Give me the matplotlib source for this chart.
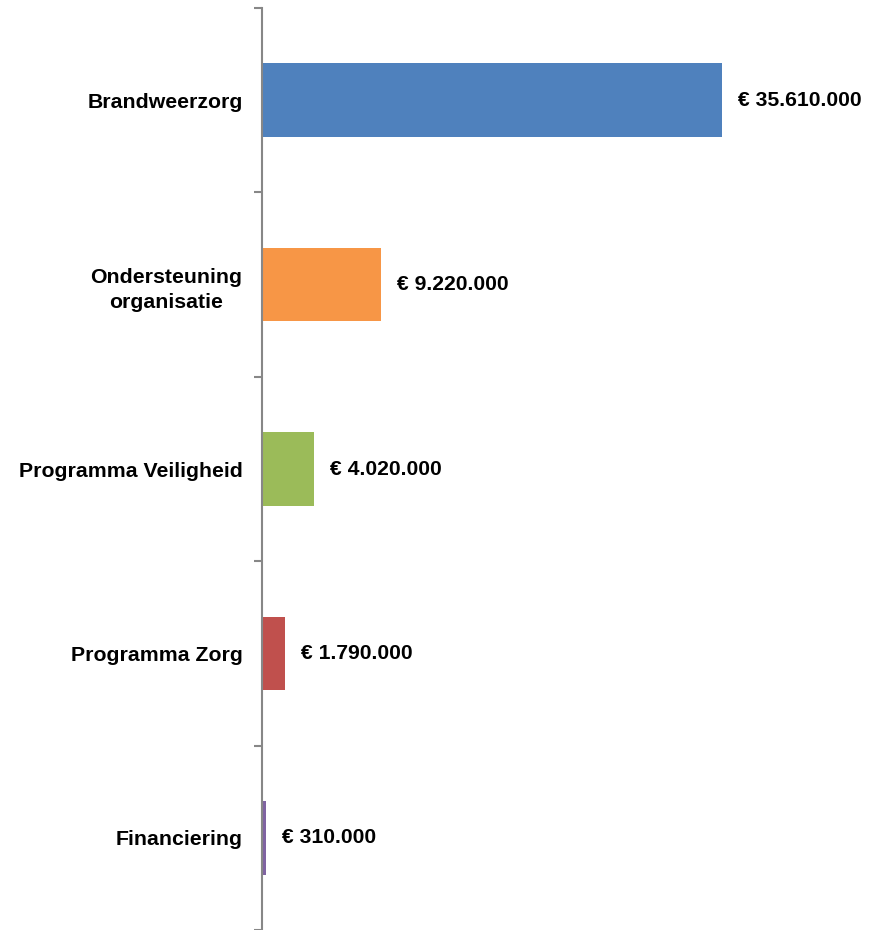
import matplotlib.pyplot as plt
import numpy as np

plt.rcParams['font.family'] = ['Liberation Sans', 'DejaVu Sans']

categories = ['Brandweerzorg', 'Ondersteuning\norganisatie', 'Programma Veiligheid',
              'Programma Zorg', 'Financiering']
values = [35610000, 9220000, 4020000, 1790000, 310000]
labels = ['€ 35.610.000', '€ 9.220.000', '€ 4.020.000', '€ 1.790.000', '€ 310.000']
colors = ['#4F81BD', '#F79646', '#9BBB59', '#C0504D', '#8064A2']

fig = plt.figure(figsize=(8.82, 9.30), dpi=100)
ax = fig.add_axes([262 / 882, 0, 620 / 882, 922 / 930])

y = np.arange(len(categories))
ax.barh(y, values, height=0.4, color=colors)
ax.set_xlim(0, 48e6)
ax.set_ylim(len(categories) - 0.5, -0.5)

for yi, v, lab in zip(y, values, labels):
    ax.text(v + 1.25e6, yi, lab, va='center', ha='left', fontsize=15.2, fontweight='bold')

ax.set_yticks(y)
ax.set_yticklabels(categories, fontsize=15.3, fontweight='bold', ha='right',
                   multialignment='center')
for t in ax.get_yticklabels():
    t.set_linespacing(1.4)
ax.tick_params(axis='y', which='major', length=0, pad=14)
ax.set_yticks(np.arange(-0.5, len(categories)), minor=True)
ax.tick_params(axis='y', which='minor', length=6, width=1.5, color='#878787', direction='out')
ax.set_xticks([])

for s in ['top', 'right', 'bottom']:
    ax.spines[s].set_visible(False)
ax.spines['left'].set_color('#878787')
ax.spines['left'].set_linewidth(1.5)

fig.savefig('out.png', dpi=100)
